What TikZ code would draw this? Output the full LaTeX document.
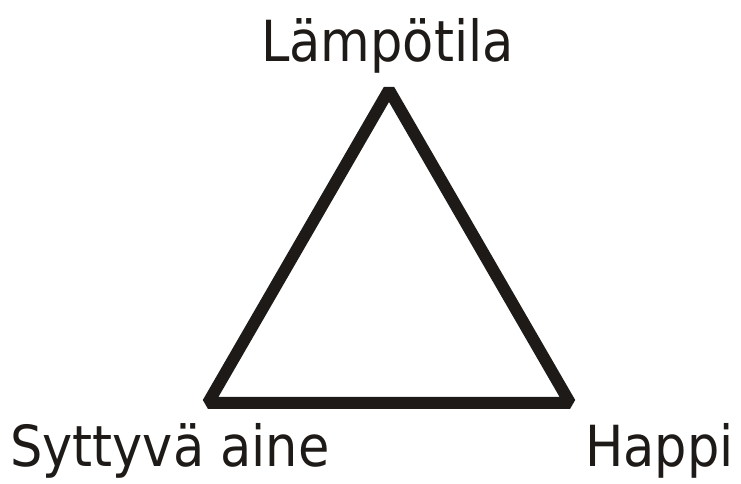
\documentclass[tikz,border=0pt]{standalone}
\usepackage{fontspec}
\setmainfont{DejaVu Sans Condensed}
\usetikzlibrary{positioning}
\definecolor{Ink}{HTML}{1E1A18}

\begin{document}
\begin{tikzpicture}[x=0.75pt,y=0.75pt,
  lbl/.style={inner sep=0pt,anchor=base west,text=Ink,font=\fontsize{42.5}{48}\selectfont},
  side/.style={draw=Ink,line width=9pt,line join=bevel,line cap=butt}]
  \useasboundingbox (0,0) rectangle (741,484);
  \coordinate (heat) at (389,394);
  \coordinate (fuel) at (208,81);
  \coordinate (oxy)  at (570,81);
  \draw[side] (heat)--(oxy)--(fuel)--cycle;
  \node[lbl] (lampo)  at (261,422) {Lämpötila};
  \node[lbl] (aine)   at (10,17)   {Syttyvä aine};
  \node[lbl] (happi)  at (585,17)  {Happi};
\end{tikzpicture}
\end{document}
